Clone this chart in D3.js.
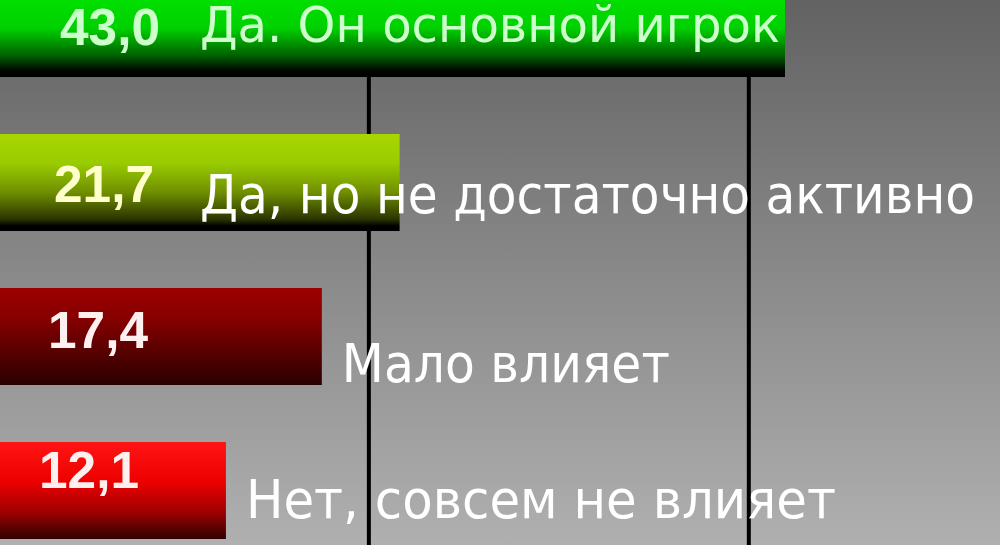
<!DOCTYPE html>
<html>
<head>
<meta charset="utf-8">
<script src="https://cdn.jsdelivr.net/npm/d3@7"></script>
<style>
  html, body { margin: 0; padding: 0; background: #888; }
  svg { display: block; }
</style>
</head>
<body>
<svg width="1000" height="545"></svg>
<script>
// data
const categories = ["Да. Он основной игрок", "Да, но не достаточно активно", "Мало влияет", "Нет, совсем не влияет"];
const values = [43.0, 21.7, 17.4, 12.1];
const valueLabels = ["43,0", "21,7", "17,4", "12,1"];
const gridValues = [20, 41];

// styling / layout (not data)
const barStops = [
  [[0, "#00ea00"], [0.5, "#00d000"], [0.78, "#006000"], [0.93, "#000800"], [1, "#000"]],
  [[0, "#a8d600"], [0.3, "#99cc00"], [0.6, "#708f00"], [0.88, "#2a3400"], [0.95, "#000"], [1, "#000"]],
  [[0, "#9c0000"], [0.3, "#880000"], [0.7, "#520000"], [1, "#2a0000"]],
  [[0, "#ff1414"], [0.4, "#ee0000"], [0.72, "#a00000"], [1, "#2e0000"]]
];
const valueFill = ["#ccffcc", "#ffffcc", "#fff0f0", "#fff0f0"];
const catFill = ["#ccffcc", "#ffffff", "#ffffff", "#ffffff"];
const catWidth = [580, 775, 328, 590];
const valueDx = [110, 104, 98, 89];
const valueDy = [65, 68, 60, 46];
const catDy = [62, 79, 94, 76];
const insideX = 200;

const W = 1000, H = 545;
const svg = d3.select("svg");

const x = d3.scaleLinear().domain([0, 43]).range([7, 785]);
const y = d3.scaleBand().domain(categories).range([-20, 539]).paddingInner(0.37).paddingOuter(0);

const defs = svg.append("defs");
const bg = defs.append("linearGradient").attr("id", "bg").attr("x1", 0).attr("y1", 0).attr("x2", 0).attr("y2", 1);
bg.append("stop").attr("offset", 0).attr("stop-color", "#626262");
bg.append("stop").attr("offset", 1).attr("stop-color", "#b0b0b0");

barStops.forEach((stops, i) => {
  const g = defs.append("linearGradient").attr("id", "bar" + i)
    .attr("x1", 0).attr("y1", 0).attr("x2", 0).attr("y2", 1);
  stops.forEach(s => g.append("stop").attr("offset", s[0]).attr("stop-color", s[1]));
});

svg.append("rect").attr("width", W).attr("height", H).attr("fill", "url(#bg)");

// grid lines
svg.append("g")
  .selectAll("line")
  .data(gridValues)
  .enter().append("line")
  .attr("x1", d => x(d)).attr("x2", d => x(d))
  .attr("y1", 0).attr("y2", H)
  .attr("stroke", "#000")
  .attr("stroke-width", 4);

// bars
svg.append("g")
  .selectAll("rect")
  .data(values)
  .enter().append("rect")
  .attr("x", -10)
  .attr("y", (d, i) => y(categories[i]))
  .attr("width", d => x(d) + 10)
  .attr("height", y.bandwidth())
  .attr("fill", (d, i) => `url(#bar${i})`);

// value labels
svg.append("g")
  .selectAll("text")
  .data(valueLabels)
  .enter().append("text")
  .attr("x", (d, i) => valueDx[i])
  .attr("y", (d, i) => y(categories[i]) + valueDy[i])
  .attr("text-anchor", "middle")
  .attr("font-family", "Liberation Sans, Arial, sans-serif")
  .attr("font-weight", "bold")
  .attr("font-size", 52)
  .attr("textLength", 100)
  .attr("lengthAdjust", "spacingAndGlyphs")
  .attr("fill", (d, i) => valueFill[i])
  .text(d => d);

// category labels: inside long bars, right of short ones
svg.append("g")
  .selectAll("text")
  .data(categories)
  .enter().append("text")
  .attr("x", (d, i) => values[i] > 20 ? insideX : x(values[i]) + 20)
  .attr("y", (d, i) => y(d) + catDy[i])
  .attr("font-family", "DejaVu Sans, sans-serif")
  .attr("font-size", (d, i) => i === 0 ? 50 : 54)
  .attr("textLength", (d, i) => catWidth[i])
  .attr("lengthAdjust", "spacingAndGlyphs")
  .attr("fill", (d, i) => catFill[i])
  .text(d => d);
</script>
</body>
</html>
